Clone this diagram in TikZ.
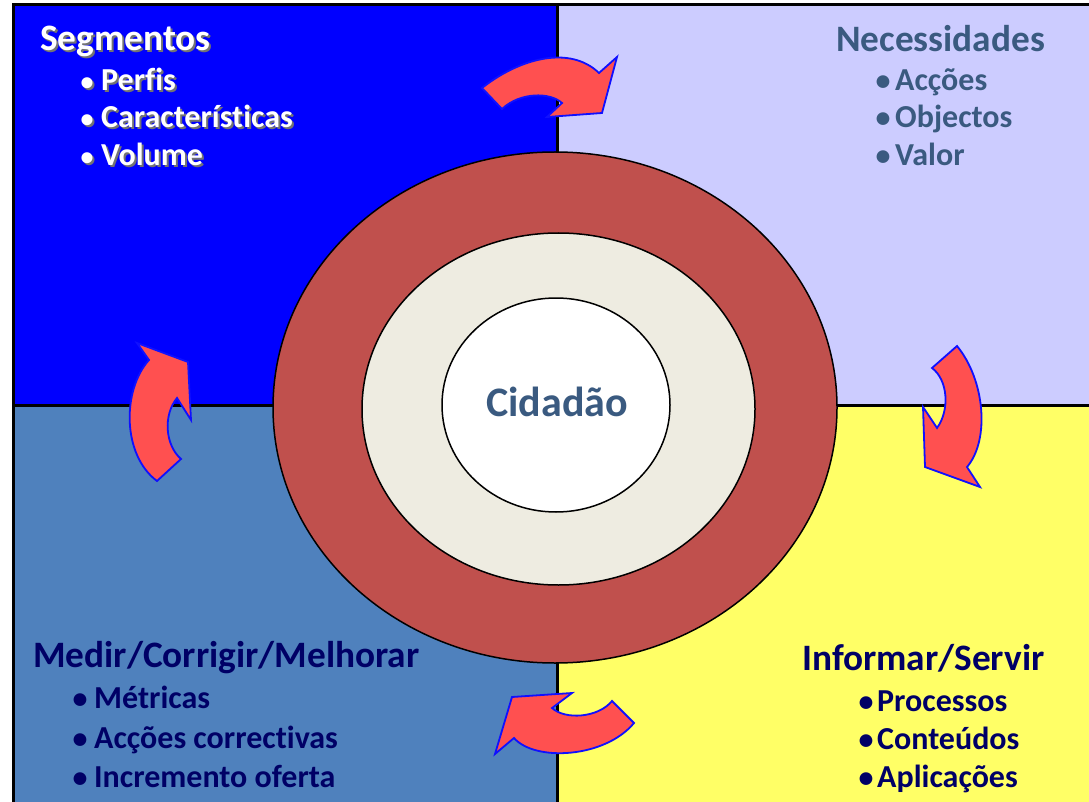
\documentclass[tikz,border=0pt]{standalone}
\usepackage{fontspec}
\setmainfont{Carlito}[Ligatures={NoCommon}]
\definecolor{qtl}{HTML}{0000FF}
\definecolor{qtr}{HTML}{CCCCFF}
\definecolor{qbl}{HTML}{4F81BD}
\definecolor{qbr}{HTML}{FFFF66}
\definecolor{ringred}{HTML}{C0504D}
\definecolor{ringcream}{HTML}{EEECE1}
\definecolor{arrowred}{HTML}{FF5050}
\definecolor{arrowblue}{HTML}{1010FF}
\definecolor{slatetext}{HTML}{3A5A80}
\definecolor{navytext}{HTML}{000066}
\newcommand{\shadtxt}[1]{\rlap{\hspace{2pt}\raisebox{-2pt}{\color{black!55}#1}}#1}
\tikzset{
  quad/.style={draw=black, line width=3pt},
  ringline/.style={draw=black, line width=1.5pt},
  carrow/.style={fill=arrowred, draw=arrowblue, line width=1.8pt, line join=miter},
  headtxt/.style={font=\bfseries\fontsize{37.3}{40}\selectfont, anchor=base west, inner sep=0pt},
  itemtxt/.style={font=\bfseries\fontsize{32}{36}\selectfont, anchor=base west, inner sep=0pt},
  bullettxt/.style={font=\bfseries\fontsize{30}{34}\selectfont, anchor=base, inner sep=0pt},
  smallbullet/.style={font=\bfseries\fontsize{26}{30}\selectfont, anchor=base, inner sep=0pt},
}
\begin{document}
\begin{tikzpicture}[x=1pt,y=-1pt]
\useasboundingbox (0,0) rectangle (1089,802);
\clip (0,0) rectangle (1089,802);
\fill[white] (0,0) rectangle (1089,802);
% quadrants
\filldraw[quad, fill=qtl] (13,5) rectangle (557,405);
\filldraw[quad, fill=qtr] (557,5) rectangle (1100,405);
\filldraw[quad, fill=qbl] (13,405) rectangle (557,815);
\filldraw[quad, fill=qbr] (557,405) rectangle (1100,815);
% rings
\filldraw[ringline, fill=ringred] (555,407.5) ellipse [x radius=282, y radius=255.5];
\filldraw[ringline, fill=ringcream] (558.5,409) ellipse [x radius=196.5, y radius=176];
\filldraw[ringline, fill=white] (556,405) ellipse [x radius=114, y radius=107];
\node[font=\bfseries\fontsize{42}{46}\selectfont, text=slatetext, inner sep=0pt] (cid) at (557,402) {Cidadão};
% curved arrows
\draw[carrow] (482,88) .. controls (520,58) and (570,45) .. (599,73) -- (617,57) -- (602,113) -- (547,117) -- (562,103) .. controls (550,92) and (520,92) .. (502,109) -- cycle;
\draw[carrow] (957,346) .. controls (985,380) and (990,440) .. (967,467) -- (980,487) -- (925,467) -- (923,407) -- (937,428) .. controls (950,410) and (948,380) .. (932,368) -- cycle;
\draw[carrow] (634,723) .. controls (605,758) and (535,762) .. (514,738) -- (495,754) -- (512,697) -- (572,693) -- (552,708) .. controls (565,720) and (598,718) .. (612,701) -- cycle;
\draw[carrow] (157,481) .. controls (122,455) and (122,390) .. (149,360) -- (137,343) -- (188,362) -- (191,420) -- (177,398) .. controls (163,415) and (165,445) .. (181,459) -- cycle;
% top-left text (white with shadow)
\node[headtxt, text=white] (seg) at (40,51) {\shadtxt{Segmentos}};
\foreach \y/\t/\n in {91/Perfis/a, 128/Características/b, 166/Volume/c}{
  \node[smallbullet, text=white] (tlb\n) at (87,\y) {\shadtxt{•}};
  \node[itemtxt, text=white] (tli\n) at (101,\y) {\shadtxt{\t}};
}
% top-right text
\node[headtxt, text=slatetext] (nec) at (836,52) {Necessidades};
\foreach \y/\t/\n in {91/Acções/a, 128/Objectos/b, 166/Valor/c}{
  \node[bullettxt, text=slatetext] (trb\n) at (883,\y) {•};
  \node[itemtxt, text=slatetext] (tri\n) at (895,\y) {\t};
}
% bottom-left text
\node[headtxt, text=navytext] (med) at (33,667) {Medir/Corrigir/Melhorar};
\foreach \y/\t/\n in {708/Métricas/a, 748/Acções correctivas/b, 787/Incremento oferta/c}{
  \node[bullettxt, text=navytext] (blb\n) at (80,\y) {•};
  \node[itemtxt, text=navytext] (bli\n) at (94,\y) {\t};
}
% bottom-right text
\node[headtxt, text=navytext] (inf) at (802,670) {Informar/Servir};
\foreach \y/\t/\n in {711/Processos/a, 749/Conteúdos/b, 787/Aplicações/c}{
  \node[bullettxt, text=navytext] (brb\n) at (866,\y) {•};
  \node[itemtxt, text=navytext] (bri\n) at (877,\y) {\t};
}
\end{tikzpicture}
\end{document}
